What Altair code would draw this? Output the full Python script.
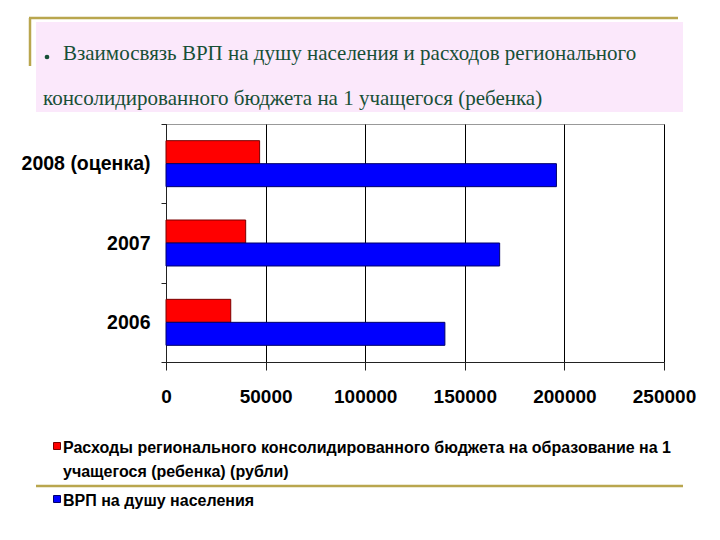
import altair as alt
import pandas as pd

years = ["2008 (оценка)", "2007", "2006"]
series = [
    "Расходы регионального консолидированного бюджета на образование на 1 учащегося (ребенка) (рубли)",
    "ВРП на душу населения",
]
expenses = [47000, 40000, 32500]
grp = [196000, 167500, 140000]
x_ticks = [0, 50000, 100000, 150000, 200000, 250000]
colors = ["#FF0000", "#0000FF"]
borders = ["#7A0000", "#00006A"]
title_lines = [
    "Взаимосвязь ВРП на душу населения и расходов регионального",
    "консолидированного бюджета на 1 учащегося (ребенка)",
]
legend_lines = [
    ["Расходы регионального консолидированного бюджета на образование на 1",
     "учащегося (ребенка) (рубли)"],
    ["ВРП на душу населения"],
]

rows = []
for y, e, g in zip(years, expenses, grp):
    rows.append({"year": y, "series": series[0], "value": e})
    rows.append({"year": y, "series": series[1], "value": g})
df = pd.DataFrame(rows)
one = pd.DataFrame({"k": [0]})

W, H = 498, 238
GREEN = "#174F36"
OLIVE = "#B9A64E"
SERIF = "Liberation Serif"

base = alt.Chart(one)

pink = base.mark_rect(color="#FBE8FB").encode(
    x=alt.value(-130), x2=alt.value(517), y=alt.value(-102), y2=alt.value(-12))
top_line = base.mark_rule(color=OLIVE, strokeWidth=2.5).encode(
    x=alt.value(-137), x2=alt.value(512), y=alt.value(-106))
left_line = base.mark_rule(color=OLIVE, strokeWidth=2.5).encode(
    x=alt.value(-136), y=alt.value(-106), y2=alt.value(-58))
bottom_line = base.mark_rule(color=OLIVE, strokeWidth=2.5).encode(
    x=alt.value(-130), x2=alt.value(517), y=alt.value(362))

bullet = base.mark_point(filled=True, shape="circle", color=GREEN, size=22, opacity=1).encode(
    x=alt.value(-119), y=alt.value(-67))
t1 = base.mark_text(align="left", baseline="alphabetic", font=SERIF,
                    fontSize=21, color=GREEN).encode(
    x=alt.value(-103), y=alt.value(-64), text=alt.value(title_lines[0]))
t2 = base.mark_text(align="left", baseline="alphabetic", font=SERIF,
                    fontSize=21, color=GREEN).encode(
    x=alt.value(-123), y=alt.value(-19), text=alt.value(title_lines[1]))

leg = []
leg_y = [322, 375]
for i in range(2):
    leg.append(base.mark_square(size=49, color=colors[i], stroke=borders[i],
                                strokeWidth=1, opacity=1, filled=True).encode(
        x=alt.value(-109), y=alt.value(leg_y[i])))
    leg.append(base.mark_text(align="left", baseline="middle", font="Liberation Sans",
                              fontWeight="bold", fontSize=16, color="black",
                              lineHeight=24).encode(
        x=alt.value(-103), y=alt.value(leg_y[i] + 2), text=alt.value(legend_lines[i])))

bars = alt.Chart(df).mark_bar(strokeWidth=1).encode(
    y=alt.Y("year:N", sort=years, scale=alt.Scale(paddingInner=0, paddingOuter=0),
            axis=alt.Axis(title=None, labelFont="Liberation Sans", labelFontWeight="bold",
                          labelFontSize=19.5, labelColor="black", tickBand="extent",
                          tickSize=5, tickColor="#222", domainColor="#222",
                          labelPadding=11, grid=False, labelLimit=300)),
    yOffset=alt.YOffset("series:N", sort=series,
                        scale=alt.Scale(paddingInner=0, paddingOuter=0.725)),
    x=alt.X("value:Q", scale=alt.Scale(domain=[0, 250000], nice=False),
            axis=alt.Axis(title=None, values=x_ticks, format="d", labelFont="Liberation Sans",
                          labelFontWeight="bold", labelFontSize=19, labelColor="black",
                          labelFlush=False, labelOverlap=False,
                          tickSize=8, tickColor="#222", domainColor="#222",
                          labelPadding=17, gridColor="black", gridWidth=1,
                          gridOpacity=1)),
    color=alt.Color("series:N", scale=alt.Scale(domain=series, range=colors), legend=None),
    stroke=alt.Stroke("series:N", scale=alt.Scale(domain=series, range=borders), legend=None),
)

chart = alt.layer(
    pink, top_line, left_line, bottom_line, bullet, t1, t2, bars, *leg
).properties(
    width=W, height=H,
    padding={"left": 158, "top": 116, "right": 48, "bottom": 170},
    autosize=alt.AutoSizeParams(type="none"),
    background="white",
).configure_view(stroke="#999", strokeWidth=1)

chart.save("out.html", embed_options={"renderer": "svg", "actions": False})
